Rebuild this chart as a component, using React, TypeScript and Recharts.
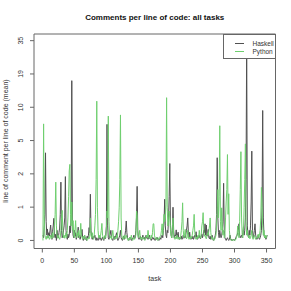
import { LineChart, Line, XAxis, YAxis, ReferenceArea, Legend } from 'recharts';

// mean comment lines per line of code, one value per task (1..351)
const haskell = [
  0.1, 0.05, 0.3, 0.6, 3.85, 0.4, 0.1, 0.23, 0.05, 0.15,
  0.08, 0.2, 0.32, 0.1, 0.02, 0.18, 0.3, 0.49, 0.1, 0.05,
  0.12, 0, 0.2, 0.08, 0.05, 0.15, 0.25, 0.6, 1.86, 0.2,
  0.05, 0.1, 0.19, 0.3, 0.5, 2.16, 0.2, 0.08, 0.02, 0.12,
  0.05, 0.1, 0.3, 0.15, 0.6, 16.8, 0.4, 0.1, 0.05, 0.2,
  0.08, 0.15, 0.02, 0.1, 0.12, 0.27, 0.05, 0.1, 0.02, 0.08,
  0.12, 0.22, 0.05, 0, 0.03, 0.1, 0.02, 0.05, 0, 0.08,
  0.04, 0.1, 0.26, 0.15, 1.3, 0.2, 0.05, 0.02, 0.08, 0.04,
  0.06, 0.1, 0.03, 0, 0.05, 0.02, 0, 0.04, 0.08, 0.02,
  0.05, 0, 0.03, 0.06, 0.02, 0, 0.08, 0.03, 0.1, 0.3,
  7.1, 0.3, 0.05, 0.02, 0.08, 0.12, 0.2, 0.05, 0.02, 0,
  0.04, 0.08, 0.02, 0.05, 0.1, 0.15, 0.04, 0, 0.02, 0.06,
  0.1, 0.2, 0.05, 0.02, 0, 0.04, 0.08, 0.02, 0.1, 0.2,
  0.42, 0.15, 0.05, 0.02, 0, 0.03, 0.06, 0.02, 0, 0.04,
  0.02, 0.06, 0.1, 0.03, 0.05, 0.2, 0.5, 1.65, 0.2, 0.05,
  0.02, 0.04, 0.08, 0.02, 0, 0.05, 0.1, 0.03, 0.06, 0.02,
  0.05, 0.1, 0.04, 0.08, 0.02, 0.06, 0.1, 0.04, 0.02, 0,
  0.03, 0.06, 0.02, 0.05, 0.02, 0, 0.04, 0.02, 0.06, 0.03,
  0.02, 0, 0.03, 0.05, 0.02, 0.08, 0.1, 0.05, 0.2, 0.4,
  1.1, 0.3, 0.1, 0.05, 0.2, 0.15, 0.5, 1.2, 3.0, 0.3,
  0.1, 0.05, 0.2, 0.82, 0.2, 0.05, 0.1, 0.08, 0.21, 0.05,
  0.1, 0.16, 0.04, 0.02, 0.06, 0.03, 0.08, 0.02, 0.05, 0.1,
  0.04, 0.08, 0.05, 0.12, 0.2, 0.3, 0.5, 0.15, 0.05, 0.16,
  0.04, 0.02, 0.06, 0.03, 0.08, 0.02, 0.05, 0.1, 0.06, 0.17,
  0.05, 0.02, 0.08, 0.04, 0.1, 0.05, 0.03, 0.08, 0.12, 0.05,
  0.1, 0.2, 0.15, 0.35, 0.1, 0.32, 0.08, 0.12, 0.22, 0.05,
  0.03, 0.08, 0.02, 0.05, 0.1, 0.03, 0, 0.02, 0.05, 0.1,
  0.2, 0.6, 3.44, 0.5, 0.15, 0.05, 0.2, 0.1, 0.05, 0.1,
  0.2, 0.4, 1.8, 0.2, 0.05, 0.02, 0, 0.03, 0.05, 0.02,
  0, 0.02, 0.1, 0.03, 0, 0.02, 0, 0.01, 0.02, 0,
  0.02, 0.05, 0.08, 0.1, 0.15, 0.2, 0.35, 0.1, 0.05, 0.08,
  0.1, 0.05, 0.15, 0.28, 0.1, 0.2, 0.5, 2.0, 34.9, 0.3,
  0.1, 0.05, 0.2, 0.1, 0.3, 1.0, 4.0, 0.2, 0.05, 0.1,
  0.2, 0.35, 0.1, 0.05, 0.02, 0.05, 0.1, 0.04, 0.02, 0.05,
  0.1, 0.2, 0.8, 9.4, 0.5, 0.1, 0.05, 0.08, 0.02, 0.05,
  0.1,
];

const python = [
  0, 7.17, 0.5, 0.1, 0.05, 0.02, 0.08, 0.04, 0.1, 0.06,
  0.02, 0.05, 0.1, 0.03, 0.08, 0.15, 0.05, 0.1, 0.3, 0.6,
  1.86, 0.3, 0.08, 0.04, 0.1, 0.05, 0.02, 0.06, 0.2, 0.5,
  0.72, 0.2, 0.05, 0.1, 0.04, 0.08, 0.15, 0.05, 0.2, 0.5,
  1.2, 2.5, 2.94, 0.6, 0.3, 1.0, 0.2, 0.43, 0.1, 0.05,
  0.2, 0.43, 0.1, 0.05, 0.15, 0.08, 0.2, 0.05, 0.1, 0.36,
  0.1, 0.05, 0.02, 0.08, 0.04, 0.1, 0.02, 0.05, 0.03, 0,
  0.02, 0.06, 0.03, 0.08, 0.5, 0.1, 0.05, 0.15, 0.05, 0.02,
  0.1, 0.3, 0.6, 2.0, 11.3, 0.8, 0.2, 0.05, 0.1, 0.04,
  0.1, 0.2, 0.36, 0.1, 0.05, 0.02, 0.06, 0.1, 0.05, 0.2,
  0.7, 0.5, 8.4, 0.4, 0.1, 0.05, 0.08, 0.02, 0.1, 0.2,
  0.08, 0.04, 0.02, 0.06, 0.03, 0.1, 0.05, 0.2, 0.4, 0.8,
  2.0, 8.6, 0.5, 0.1, 0.04, 0.02, 0.06, 0.1, 0.03, 0.05,
  0.1, 0.05, 0.02, 0, 0.04, 0.02, 0.06, 0.03, 0.1, 0.02,
  0, 0.03, 0.05, 0.02, 0.08, 0.1, 0.7, 0.6, 0.1, 0.05,
  0.1, 0.2, 0.05, 0.02, 0.06, 0.03, 0.02, 0.07, 0.02, 0,
  0.03, 0.06, 0.1, 0.05, 0.2, 0.08, 0.03, 0.05, 0.02, 0.1,
  0.05, 0.15, 0.35, 0.35, 0.1, 0.05, 0.02, 0.06, 0.03, 0,
  0.02, 0.05, 0.03, 0.08, 0.1, 0.2, 0.35, 0.1, 0.3, 0.6,
  0.4, 0.6, 0.9, 12.1, 0.8, 0.3, 0.4, 0.7, 0.5, 0.2,
  0.1, 0.05, 0.3, 0.5, 0.1, 0.04, 0.02, 0.06, 0.03, 0.1,
  0.05, 0.02, 0.06, 0.04, 0.02, 0.08, 0.2, 0.4, 0.97, 0.2,
  0.05, 0.1, 0.22, 0.08, 0.03, 0.05, 0.2, 0.08, 0.02, 0.06,
  0.03, 0.08, 0.04, 0.1, 0.2, 0.3, 0.6, 0.15, 0.05, 0.02,
  0.06, 0.03, 0.1, 0.05, 0.2, 0.08, 0.04, 0.1, 0.3, 0.4,
  0.65, 0.2, 0.08, 0.1, 0.05, 0.03, 0.08, 0.15, 0.1, 0.2,
  0.3, 0.5, 0.15, 0.05, 0.02, 0.06, 0.03, 0, 0.02, 0.05,
  0.1, 0.3, 0.8, 1.5, 0.5, 1.2, 6.9, 0.4, 0.2, 0.8,
  0.3, 0.1, 0.2, 0.05, 0.1, 0.5, 1.0, 1.5, 3.7, 0.6,
  1.32, 0.2, 0.05, 0.02, 0, 0.01, 0, 0.02, 0, 0.01,
  0, 0.02, 0.05, 0.1, 0.3, 0.15, 0.05, 0.4, 1.5, 3.95,
  0.5, 0.1, 0.05, 0.2, 0.8, 2.0, 4.7, 0.4, 0.1, 0.2,
  0.1, 0.05, 0.1, 0.03, 0.06, 0.1, 0.2, 0.05, 0.02, 0.06,
  0.1, 0.05, 0.02, 0.06, 0.04, 0.08, 0.12, 0.05, 0.1, 0.2,
  0.5, 1.6, 0.9, 0.3, 0.1, 0.2, 0.05, 0.1, 0.04, 0.08,
  0.1,
];

const seriesNames = ['Haskell', 'Python'];
const seriesColors = ['#505050', '#6fcf6f'];
const xTicks = [0, 50, 100, 150, 200, 250, 300, 350];
// y is drawn on a log(1 + x) scale, ticks evenly spaced, labelled with rounded means
const yTicks = [0, 0.6, 1.2, 1.8, 2.4, 3.0, 3.6];
const yTickLabels = ['0', '1', '2', '5', '10', '19', '35'];

const tasks = haskell.map((_, i) => i + 1);
const data = tasks.map((task, i) => ({
  task,
  Haskell: Math.log1p(haskell[i]),
  Python: Math.log1p(python[i]),
}));

const FONT = '"Liberation Sans", Arial, Helvetica, sans-serif';
const AXIS = '#666';
const TEXT = '#333';

function YTick({ x, y, index }: any) {
  const tx = x - 6.5;
  return (
    <text x={tx} y={y} transform={`rotate(-90, ${tx}, ${y})`} textAnchor="middle" fontSize={7} fill={TEXT} fontFamily={FONT}>
      {yTickLabels[index]}
    </text>
  );
}

function LegendBox() {
  return (
    <div style={{ position: 'absolute', left: 222.5, top: 34, width: 53, height: 24.5, boxSizing: 'border-box', border: `1px solid ${AXIS}`, background: '#fff', fontFamily: FONT, fontSize: 6.5, color: TEXT }}>
      {seriesNames.map((name, i) => (
        <div key={name} style={{ position: 'absolute', left: 11, top: 4 + i * 8, height: 8, display: 'flex', alignItems: 'center' }}>
          <span style={{ display: 'inline-block', width: 9, height: 1, background: seriesColors[i] }} />
          <span style={{ marginLeft: 9 }}>{name}</span>
        </div>
      ))}
    </div>
  );
}

export default function App() {
  return (
    <div style={{ position: 'absolute', left: 0, top: 0, width: 291, height: 291, background: '#fff', fontFamily: FONT }}>
      <div style={{ position: 'absolute', left: 34, top: 12, width: 241.5, textAlign: 'center', fontWeight: 'bold', fontSize: 8, lineHeight: '11px', color: '#111' }}>
        Comments per line of code: all tasks
      </div>
      <LineChart width={291} height={291} data={data} margin={{ top: 34, right: 15.5, bottom: 0, left: 0 }}>
        <XAxis
          dataKey="task"
          type="number"
          domain={[-13, 364]}
          ticks={xTicks}
          allowDataOverflow
          axisLine={false}
          tickLine={{ stroke: AXIS }}
          tickSize={4}
          tickMargin={6}
          height={42.5}
          tick={{ fontSize: 7, fill: TEXT, fontFamily: FONT }}
          label={{ value: 'task', position: 'insideBottom', offset: 10, fontSize: 7, fill: TEXT, fontFamily: FONT }}
        />
        <YAxis
          type="number"
          domain={[-0.145, 3.72]}
          ticks={yTicks}
          allowDataOverflow
          axisLine={false}
          tickLine={{ stroke: AXIS }}
          tickSize={4}
          tickMargin={0}
          width={34}
          tick={<YTick />}
        />
        <ReferenceArea x1={-13} x2={364} y1={-0.145} y2={3.72} fill="none" stroke={AXIS} strokeWidth={1} ifOverflow="visible" />
        {seriesNames.map((name, i) => (
          <Line key={name} dataKey={name} type="linear" stroke={seriesColors[i]} strokeWidth={1} dot={false} isAnimationActive={false} />
        ))}
        <Legend content={() => null} />
      </LineChart>
      <svg width={20} height={291} style={{ position: 'absolute', left: 0, top: 0 }}>
        <text x={8} y={141} transform="rotate(-90, 8, 141)" textAnchor="middle" fontSize={7} fill={TEXT} fontFamily={FONT}>
          line of comment per line of code (mean)
        </text>
      </svg>
      <LegendBox />
    </div>
  );
}
